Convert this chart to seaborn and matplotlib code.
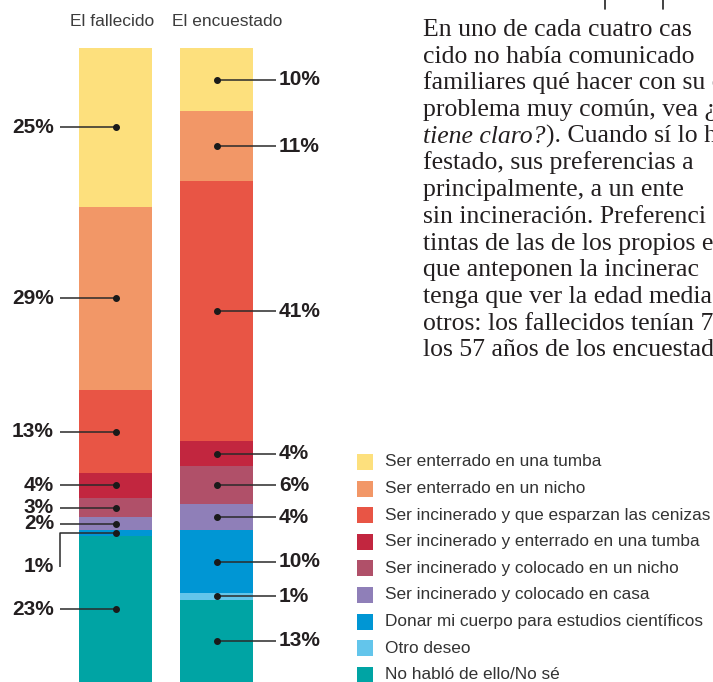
import matplotlib
matplotlib.use("Agg")
import matplotlib.pyplot as plt
from matplotlib.lines import Line2D
from matplotlib.patches import Rectangle
import pandas as pd
import seaborn as sns

# data, categories listed from the top of each bar down to the bottom
groups = ["El fallecido", "El encuestado"]
categories = [
    "Ser enterrado en una tumba",
    "Ser enterrado en un nicho",
    "Ser incinerado y que esparzan las cenizas",
    "Ser incinerado y enterrado en una tumba",
    "Ser incinerado y colocado en un nicho",
    "Ser incinerado y colocado en casa",
    "Donar mi cuerpo para estudios científicos",
    "Otro deseo",
    "No habló de ello/No sé",
]
fallecido = [25, 29, 13, 4, 3, 2, 1, 0, 23]
encuestado = [10, 11, 41, 4, 6, 4, 10, 1, 13]
colors = ["#FDE07D", "#F29767", "#E85545", "#C2263F", "#B05069",
          "#8F7FB8", "#0096D4", "#63C5EB", "#00A4A4"]

# visible part of the text column (it runs off the page edge)
paragraph = [
    "En uno de cada cuatro cas",
    "cido no había comunicado",
    "familiares qué hacer con su c",
    "problema muy común, vea ¿",
    ("tiene claro?", "). Cuando sí lo h"),
    "festado, sus preferencias a",
    "principalmente, a un ente",
    "sin incineración. Preferenci",
    "tintas de las de los propios en",
    "que anteponen la incinerac",
    "tenga que ver la edad media",
    "otros: los fallecidos tenían 7",
    "los 57 años de los encuestad",
]

sns.set_style("white")
plt.rcParams["font.family"] = ["Liberation Sans", "DejaVu Sans"]

W, H = 713, 682
fig = plt.figure(figsize=(W / 100, H / 100), dpi=100)

bar_w = 73 / 101
ax = fig.add_axes([79 / W, 0, 174 / W, 634 / H])

values = {"El fallecido": fallecido, "El encuestado": encuestado}

# overlay cumulative bars: tallest first, smaller ones on top
for i, (cat, col) in enumerate(zip(categories, colors)):
    df = pd.DataFrame({
        "grupo": groups,
        "cum": [sum(values[g][i:]) for g in groups],
    })
    sns.barplot(data=df, x="grupo", y="cum", order=groups, color=col,
                saturation=1, width=bar_w, linewidth=0, ax=ax)

ax.set_xlim(-bar_w / 2, 1 + bar_w / 2)
ax.set_ylim(0, 100)
ax.axis("off")

px = 1 / 101  # data units per pixel along x
line_kw = dict(color="#2a2a2a", lw=1.1, clip_on=False, solid_capstyle="butt")
lab_kw = dict(fontsize=15, fontweight="bold", color="#231f20", va="center")

left_line_x = -bar_w / 2 - 19 * px
left_text_x = -bar_w / 2 - 25 * px
right_line_x = 1 + bar_w / 2 + 23 * px
right_text_x = 1 + bar_w / 2 + 26 * px

# label moved below with an elbow leader (fallecido, "Donar")
elbow = {("El fallecido", 6): -5.3}

for gi, g in enumerate(groups):
    vals = values[g]
    for i, v in enumerate(vals):
        if v == 0:
            continue
        yc = sum(vals[i + 1:]) + v / 2
        ax.plot([gi], [yc], "o", ms=4, color="#1a1a1a", clip_on=False, zorder=5)
        if gi == 0:
            if (g, i) in elbow:
                yl = yc + elbow[(g, i)]
                ax.plot([gi, left_line_x, left_line_x], [yc, yc, yl], **line_kw)
            else:
                yl = yc
                ax.plot([gi, left_line_x], [yc, yc], **line_kw)
            ax.text(left_text_x, yl, f"{v}%", ha="right", **lab_kw)
        else:
            ax.plot([gi, right_line_x], [yc, yc], **line_kw)
            ax.text(right_text_x, yc, f"{v}%", ha="left", **lab_kw)

# column headers
fig.text(112 / W, 1 - 22 / H, groups[0], ha="center", va="center",
         fontsize=12.5, color="#3c3c3c")
fig.text(227 / W, 1 - 22 / H, groups[1], ha="center", va="center",
         fontsize=12.5, color="#3c3c3c")

# legend
for i, (cat, col) in enumerate(zip(categories, colors)):
    yc = 462 + 26.6 * i
    fig.patches.append(Rectangle((357 / W, 1 - (yc + 8) / H), 16 / W, 16 / H,
                                 transform=fig.transFigure, color=col, lw=0))
    fig.text(385 / W, 1 - yc / H, cat, ha="left", va="center",
             fontsize=12.4, color="#333333")

# paragraph on the right (cut at the page edge)
serif = dict(family="Liberation Serif", fontsize=18.5, color="#231f20",
             va="baseline", ha="left")
fig.canvas.draw()
renderer = fig.canvas.get_renderer()
for k, line in enumerate(paragraph):
    yb = 1 - (36 + 26.7 * k) / H
    if isinstance(line, tuple):
        t1 = fig.text(423 / W, yb, line[0], style="italic", **serif)
        x1 = t1.get_window_extent(renderer).x1 / W
        fig.text(x1 + 1 / W, yb, line[1], **serif)
    else:
        fig.text(423 / W, yb, line, **serif)

# small tick marks at the very top (cut-off element above the text)
for xm in (605, 663):
    fig.add_artist(Line2D([xm / W, xm / W], [1, 1 - 9 / H],
                          transform=fig.transFigure, color="#222222", lw=1.2))

fig.savefig("out.png", dpi=100)
